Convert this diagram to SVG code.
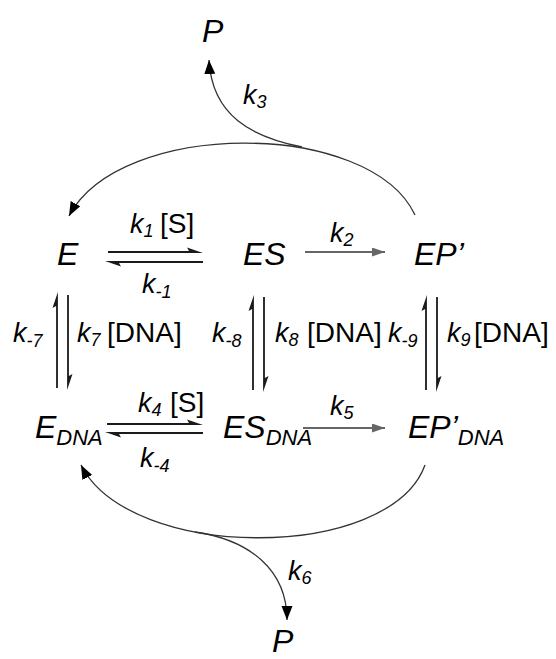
<svg xmlns="http://www.w3.org/2000/svg" width="556" height="659" viewBox="0 0 556 659">
<style>
text{font-family:"Liberation Sans",Arial,sans-serif;fill:#000}
.n{font-size:32px;font-style:italic}
.ns{font-size:22px;font-style:italic}
.k{font-size:27px;font-style:italic}
.ks{font-size:18px;font-style:italic}
.b{font-size:28px;font-style:normal}
.h{fill:#1a1a1a}
.g{stroke:#666;stroke-width:2;fill:none}
.c{stroke:#333;stroke-width:1.3;fill:none}
</style>
<defs>
<marker id="ag" markerUnits="userSpaceOnUse" markerWidth="14" markerHeight="10" refX="13" refY="4.5" orient="auto"><path d="M0,0 L13,4.5 L0,9 z" fill="#666"/></marker>
<marker id="ab" markerUnits="userSpaceOnUse" markerWidth="15" markerHeight="12" refX="14" refY="5.5" orient="auto"><path d="M0,0 L14,5.5 L0,11 z" fill="#000"/></marker>
</defs>
<g id="connectors">
<path class="h" d="M108,251.1 H189 L187,247.5 L203,252.9 H108 z"/>
<path class="h" d="M203,261.1 H105 L121,266.5 L119,262.9 H203 z"/>
<path class="h" d="M107,423.1 H189 L187,419.5 L203,424.9 H107 z"/>
<path class="h" d="M203,432.1 H105 L121,437.5 L119,433.9 H203 z"/>
<path class="h" d="M56.1,388 V306 L52.5,308 L57.9,292 V388 z"/>
<path class="h" d="M67.1,295 V390 L72.5,374 L68.9,376 V295 z"/>
<path class="h" d="M252.1,390 V309 L248.5,311 L253.9,295 V390 z"/>
<path class="h" d="M263.1,297 V392 L268.5,376 L264.9,378 V297 z"/>
<path class="h" d="M425.1,390 V309 L421.5,311 L426.9,295 V390 z"/>
<path class="h" d="M436.1,297 V392 L441.5,376 L437.9,378 V297 z"/>
<path class="g" d="M305,252 H385" marker-end="url(#ag)"/>
<path class="g" d="M303,428 H385" marker-end="url(#ag)"/>
<path class="c" d="M415,215 C370,119 120,119 69,216" marker-end="url(#ab)"/>
<path class="c" d="M302,147 C252,137 212,116 209,60" marker-end="url(#ab)"/>
<path class="c" d="M425,465 C390,562 130,562 81,465" marker-end="url(#ab)"/>
<path class="c" d="M195,532 C250,540 287,570 287,620" marker-end="url(#ab)"/>
</g>
<g id="E"><text class="n" x="57" y="265">E</text></g>
<g id="ES"><text class="n" x="243" y="265">ES</text></g>
<g id="EP"><text class="n" x="414" y="265">EP’</text></g>
<g id="EDNA"><text class="n" x="35" y="438">E<tspan class="ns" dy="7">DNA</tspan></text></g>
<g id="ESDNA"><text class="n" x="223" y="438">ES<tspan class="ns" dy="7">DNA</tspan></text></g>
<g id="EPDNA"><text class="n" x="408" y="438">EP’<tspan class="ns" dy="7">DNA</tspan></text></g>
<g id="P1"><text class="n" x="202" y="42">P</text></g>
<g id="P2"><text class="n" x="272" y="652">P</text></g>
<g id="labels">
<text class="k" x="130" y="233">k<tspan class="ks" dy="4">1</tspan><tspan class="b" x="160" dy="-4">[S]</tspan></text>
<text class="k" x="142" y="293">k<tspan class="ks" dy="5">-1</tspan></text>
<text class="k" x="330" y="242">k<tspan class="ks" dy="4">2</tspan></text>
<text class="k" x="243" y="104">k<tspan class="ks" dy="4">3</tspan></text>
<text class="k" x="138" y="412">k<tspan class="ks" dy="4">4</tspan><tspan class="b" x="170" dy="-4">[S]</tspan></text>
<text class="k" x="140" y="467">k<tspan class="ks" dy="5">-4</tspan></text>
<text class="k" x="330" y="415">k<tspan class="ks" dy="4">5</tspan></text>
<text class="k" x="288" y="580">k<tspan class="ks" dy="4">6</tspan></text>
<text class="k" x="13" y="342">k<tspan class="ks" dy="5">-7</tspan></text>
<text class="k" x="77" y="342">k<tspan class="ks" dy="4">7</tspan><tspan class="b" x="107" dy="-4">[DNA]</tspan></text>
<text class="k" x="212" y="342">k<tspan class="ks" dy="5">-8</tspan></text>
<text class="k" x="275" y="342">k<tspan class="ks" dy="4">8</tspan><tspan class="b" x="307" dy="-4">[DNA]</tspan></text>
<text class="k" x="388" y="342">k<tspan class="ks" dy="5">-9</tspan></text>
<text class="k" x="447" y="342">k<tspan class="ks" dy="4">9</tspan><tspan class="b" x="474" dy="-4">[DNA]</tspan></text>
</g>
</svg>
